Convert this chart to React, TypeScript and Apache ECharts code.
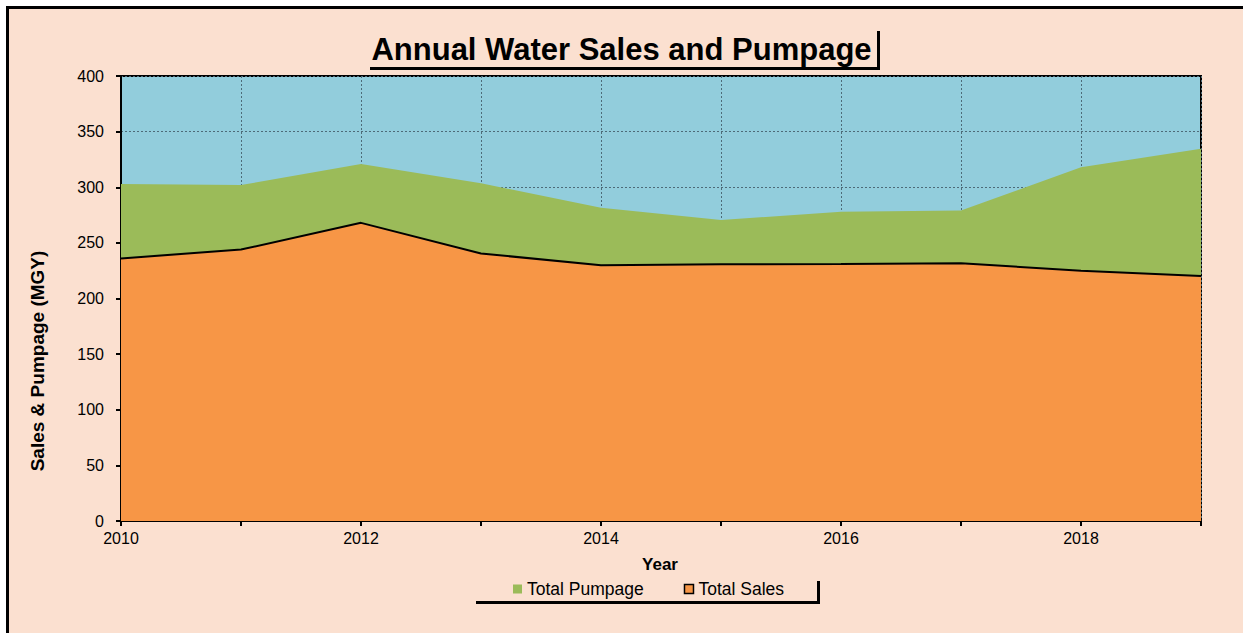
import React, { useEffect, useRef } from "react";
import * as echarts from "echarts";

const years = [2010, 2011, 2012, 2013, 2014, 2015, 2016, 2017, 2018, 2019];
const totalPumpage = [303, 302, 321, 303.5, 281.5, 270.5, 278, 279, 318, 334.5];
const totalSales = [236, 244, 268, 240.5, 229.8, 230.7, 231, 231.6, 225, 220.2];
const minorTickYears = [2010.5, 2011.5, 2012.5, 2013.5, 2014.5, 2015.5, 2016.5, 2017.5, 2018.5];

const TITLE = "Annual Water Sales and Pumpage";
const Y_NAME = "Sales & Pumpage (MGY)";
const X_NAME = "Year";

const FONT = '"Liberation Sans", Arial, Helvetica, sans-serif';
const PEACH = "#FBE0D0";
const BLUE = "#92CDDC";
const GREEN = "#9BBB59";
const ORANGE = "#F79646";

export default function App() {
  const ref = useRef<HTMLDivElement>(null);

  useEffect(() => {
    document.body.style.margin = "0";
    const chart = echarts.init(ref.current!, null, { renderer: "svg" });
    const gridLine = { show: true, lineStyle: { color: "#4d6b78", type: [2, 2], width: 1 } };
    chart.setOption({
      animation: false,
      textStyle: { fontFamily: FONT },
      grid: {
        left: 121,
        top: 76,
        width: 1080,
        height: 445,
        show: true,
        backgroundColor: BLUE,
        borderColor: "#000",
        borderWidth: 2,
        containLabel: false,
      },
      xAxis: [
        {
          type: "value",
          min: 2010,
          max: 2019,
          interval: 1,
          axisLine: { show: true, onZero: false, lineStyle: { color: "#000", width: 2 } },
          axisTick: { show: true, inside: false, length: 5, lineStyle: { color: "#000", width: 2 } },
          axisLabel: {
            color: "#000",
            fontSize: 16,
            fontFamily: FONT,
            margin: 9,
            formatter: (v: number) => (v % 2 === 0 && v < 2019 ? String(v) : ""),
          },
          splitLine: gridLine,
        },
        {
          type: "value",
          min: 2010,
          max: 2019,
          position: "bottom",
          axisLine: { show: false },
          axisTick: {
            show: true,
            inside: true,
            length: 5,
            customValues: minorTickYears,
            lineStyle: { color: "#000", width: 2 },
          },
          axisLabel: { show: false },
          splitLine: { show: false },
        },
      ],
      yAxis: {
        type: "value",
        min: 0,
        max: 400,
        interval: 50,
        axisLine: { show: true, lineStyle: { color: "#000", width: 2 } },
        axisTick: { show: true, inside: false, length: 5, lineStyle: { color: "#000", width: 2 } },
        axisLabel: { color: "#000", fontSize: 16, fontFamily: FONT, margin: 17 },
        splitLine: gridLine,
      },
      legend: {
        left: 513,
        top: 580,
        padding: 0,
        itemGap: 40,
        itemWidth: 9,
        itemHeight: 9,
        icon: "rect",
        textStyle: { color: "#000", fontSize: 17.5, fontFamily: FONT },
        data: [
          { name: "Total Pumpage", itemStyle: { color: GREEN, borderWidth: 0 } },
          { name: "Total Sales", itemStyle: { color: ORANGE, borderColor: "#000", borderWidth: 1.5 } },
        ],
      },
      series: [
        {
          name: "Total Pumpage",
          type: "line",
          xAxisIndex: 0,
          data: years.map((y, i) => [y, totalPumpage[i]]),
          showSymbol: false,
          symbol: "none",
          color: GREEN,
          lineStyle: { width: 0, color: GREEN },
          areaStyle: { color: GREEN, opacity: 1 },
          z: 2,
        },
        {
          name: "Total Sales",
          type: "line",
          xAxisIndex: 0,
          data: years.map((y, i) => [y, totalSales[i]]),
          showSymbol: false,
          symbol: "none",
          color: ORANGE,
          lineStyle: { width: 2, color: "#000" },
          areaStyle: { color: ORANGE, opacity: 1 },
          z: 3,
        },
      ],
      graphic: [
        {
          type: "rect",
          z: -10,
          silent: true,
          shape: { x: 7.5, y: 7.5, width: 1400, height: 800 },
          style: { fill: PEACH, stroke: "#000", lineWidth: 3 },
        },
        {
          type: "text",
          x: 621.5,
          y: 49.5,
          style: {
            text: TITLE,
            fill: "#000",
            font: `bold 31px ${FONT}`,
            textAlign: "center",
            textVerticalAlign: "middle",
          },
        },
        {
          type: "line",
          shape: { x1: 370, y1: 68.5, x2: 880, y2: 68.5 },
          style: { stroke: "#000", lineWidth: 3 },
        },
        {
          type: "line",
          shape: { x1: 878.5, y1: 31, x2: 878.5, y2: 70 },
          style: { stroke: "#000", lineWidth: 3 },
        },
        {
          type: "text",
          x: 37,
          y: 361,
          rotation: Math.PI / 2,
          style: {
            text: Y_NAME,
            fill: "#000",
            font: `bold 19px ${FONT}`,
            textAlign: "center",
            textVerticalAlign: "middle",
          },
        },
        {
          type: "text",
          x: 660,
          y: 564,
          style: {
            text: X_NAME,
            fill: "#000",
            font: `bold 17px ${FONT}`,
            textAlign: "center",
            textVerticalAlign: "middle",
          },
        },
        {
          type: "line",
          shape: { x1: 476, y1: 602.5, x2: 820, y2: 602.5 },
          style: { stroke: "#000", lineWidth: 3 },
        },
        {
          type: "line",
          shape: { x1: 818.5, y1: 581, x2: 818.5, y2: 604 },
          style: { stroke: "#000", lineWidth: 3 },
        },
      ],
    });
    return () => chart.dispose();
  }, []);

  return <div ref={ref} style={{ width: 1243, height: 633 }} />;
}
